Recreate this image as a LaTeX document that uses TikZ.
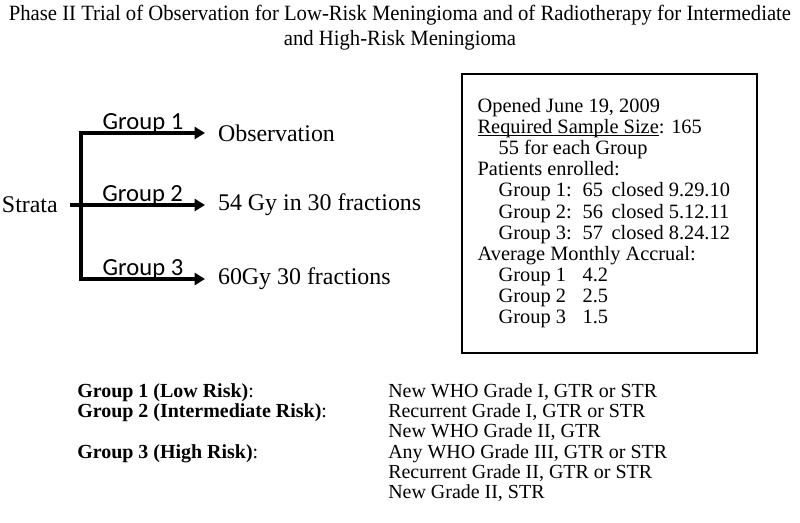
\documentclass[tikz,border=0pt]{standalone}
\usepackage{fontspec}
\setmainfont{Liberation Serif}
\newfontfamily\labelfont{Carlito}
\newfontfamily\titlefont[FakeStretch=0.95]{Liberation Serif}
\usepackage{tikz}
\usetikzlibrary{arrows.meta,positioning,calc}
\definecolor{Ink}{HTML}{000000}
\tikzset{
  branch/.style={draw=Ink,line width=2.8pt,-{Triangle[length=2.6mm,width=3mm]}},
  spine/.style={draw=Ink,line width=2.8pt,line cap=rect},
  grouplabel/.style={font=\labelfont\fontsize{17.5}{19}\selectfont,above=-1.8pt,inner sep=0pt},
  outcome/.style={anchor=west,font=\fontsize{17}{19}\selectfont,inner xsep=3.2mm,inner ysep=0pt},
  infotext/.style={anchor=north west,align=left,inner sep=0pt,font=\fontsize{14.5}{15}\selectfont},
  frame/.style={draw=Ink,line width=0.9pt,minimum width=7.375cm,minimum height=6.975cm,inner sep=0pt},
  criteria/.style={anchor=north west,inner sep=0pt,font=\fontsize{14.2}{14.4}\selectfont}
}
\newcommand{\ind}{\hspace*{5.25mm}}
\newcommand{\grpcol}[1]{\makebox[21mm][l]{#1}}
\newcommand{\numcol}[1]{\makebox[7.25mm][l]{#1}}
\newcommand{\ulined}[1]{\setbox0\hbox{#1}\rlap{\rule[-1.6pt]{\wd0}{0.7pt}}\box0}

\begin{document}
\begin{tikzpicture}
  \useasboundingbox (0,0) rectangle (20,13.075);
  % title
  \node[align=center,font=\titlefont\fontsize{15.5}{17.8}\selectfont] (title) at (10,12.39)
    {Phase II Trial of Observation for Low-Risk Meningioma and of Radiotherapy for Intermediate\\
     and High-Risk Meningioma};

  % strata and branches
  \node[anchor=east,font=\fontsize{17}{19}\selectfont,inner xsep=3mm] (strata) at (1.75,7.95) {Strata};
  \node[outcome] (obs) at (5.125,9.75) {Observation};
  \node[outcome] (gy54) at (5.125,7.95) {54 Gy in 30 fractions};
  \node[outcome] (gy60) at (5.125,6.1) {60Gy 30 fractions};
  \coordinate (split1) at (2.025,9.75);
  \coordinate (split3) at (2.025,6.1);
  \draw[spine] (split1) -- (split3);
  \draw[branch] (split1) -- node[grouplabel]{Group 1} (obs.west);
  \draw[branch] (strata.east) -- node[grouplabel,xshift=1.3mm]{Group 2} (gy54.west);
  \draw[branch] (split3) -- node[grouplabel]{Group 3} (gy60.west);

  % accrual box
  \node[frame] (box) at (15.2375,7.7375) {};
  \node[infotext] (stats) at ([xshift=4mm,yshift=-6.2mm]box.north west)
    {Opened June 19, 2009\\
     \ulined{Required Sample Size}: 165\\
     \ind 55 for each Group\\
     Patients enrolled:\\
     \ind\grpcol{Group 1:}\numcol{65}closed 9.29.10\\
     \ind\grpcol{Group 2:}\numcol{56}closed 5.12.11\\
     \ind\grpcol{Group 3:}\numcol{57}closed 8.24.12\\
     Average Monthly Accrual:\\
     \ind\grpcol{Group 1}4.2\\
     \ind\grpcol{Group 2}2.5\\
     \ind\grpcol{Group 3}1.5};

  % risk definitions
  \node[criteria] (defs) at (1.925,3.5)
    {\begin{tabular}{@{}p{7.775cm}@{}l@{}}
     \textbf{Group 1 (Low Risk)}: & New WHO Grade I, GTR or STR\\
     \textbf{Group 2 (Intermediate Risk)}: & Recurrent Grade I, GTR or STR\\
      & New WHO Grade II, GTR\\
     \textbf{Group 3 (High Risk)}: & Any WHO Grade III, GTR or STR\\
      & Recurrent Grade II, GTR or STR\\
      & New Grade II, STR
     \end{tabular}};
\end{tikzpicture}
\end{document}
